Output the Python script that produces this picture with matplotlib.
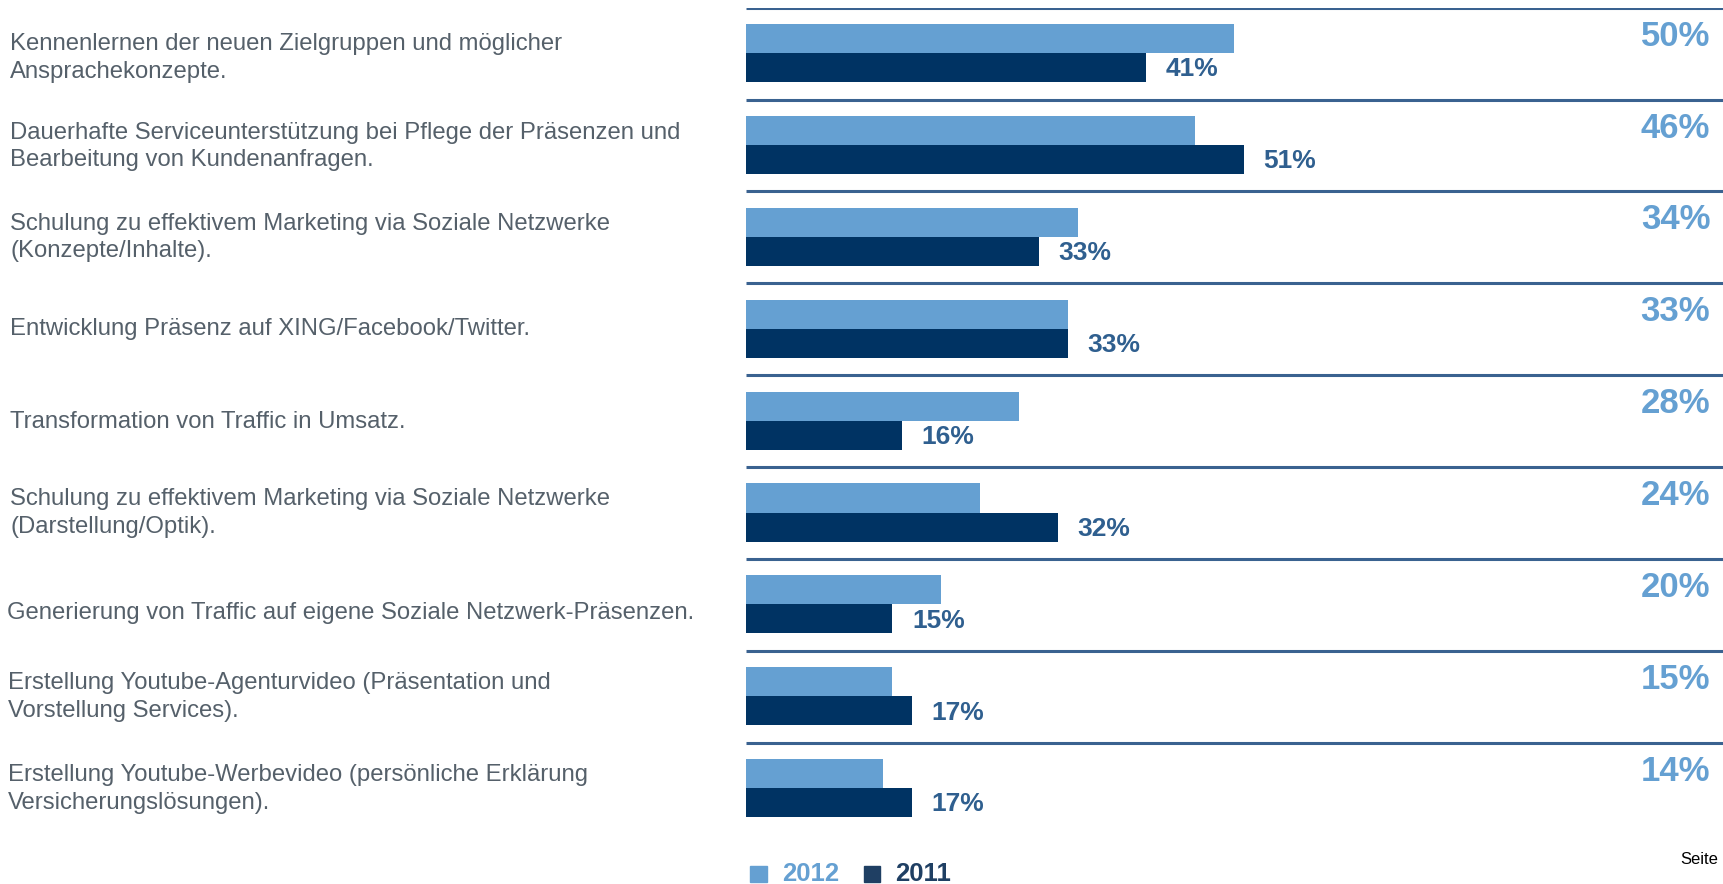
import matplotlib.pyplot as plt
from matplotlib.patches import Rectangle
from matplotlib.transforms import blended_transform_factory

categories = [
    "Kennenlernen der neuen Zielgruppen und möglicher\nAnsprachekonzepte.",
    "Dauerhafte Serviceunterstützung bei Pflege der Präsenzen und\nBearbeitung von Kundenanfragen.",
    "Schulung zu effektivem Marketing via Soziale Netzwerke\n(Konzepte/Inhalte).",
    "Entwicklung Präsenz auf XING/Facebook/Twitter.",
    "Transformation von Traffic in Umsatz.",
    "Schulung zu effektivem Marketing via Soziale Netzwerke\n(Darstellung/Optik).",
    "Generierung von Traffic auf eigene Soziale Netzwerk-Präsenzen.",
    "Erstellung Youtube-Agenturvideo (Präsentation und\nVorstellung Services).",
    "Erstellung Youtube-Werbevideo (persönliche Erklärung\nVersicherungslösungen).",
]
values_2012 = [50, 46, 34, 33, 28, 24, 20, 15, 14]
values_2011 = [41, 51, 30, 33, 16, 32, 15, 17, 17]
labels_2012 = ["50%", "46%", "34%", "33%", "28%", "24%", "20%", "15%", "14%"]
labels_2011 = ["41%", "51%", "33%", "33%", "16%", "32%", "15%", "17%", "17%"]

LIGHT = "#65a0d2"
DARK = "#003363"
LINE = "#3a6290"
DARK_TXT = "#2f5f8f"
GREY = "#55606a"

W, H = 1723, 884
plt.rcParams["font.family"] = ["Liberation Sans", "DejaVu Sans"]

fig = plt.figure(figsize=(W / 100, H / 100), dpi=100)
ax = fig.add_axes([746 / W, 1 - 834.8 / H, 977 / W, 827.1 / H])
xmax = 977 / 9.76
ax.set_xlim(0, xmax)
ax.set_ylim(len(categories), 0)
ax.axis("off")

rows = list(range(len(categories)))
bh = 0.316
ax.barh([r + 0.335 for r in rows], values_2012, height=bh, color=LIGHT)
ax.barh([r + 0.651 for r in rows], values_2011, height=bh, color=DARK)
ax.hlines(rows, 0, xmax, color=LINE, lw=2.2)

# small per-row nudges of the left labels (layout only)
label_dy = [0.05, 0.01, 0, 0, 0.01, 0, 0.09, 0, 0]
label_dx = [0, 0, 0, 0, 0, 0, -3, -2, -2]

trans = blended_transform_factory(fig.transFigure, ax.transData)
for r in rows:
    ax.text(98.8, r + 0.31, labels_2012[r], ha="right", va="center",
            fontsize=25, fontweight="bold", color=LIGHT)
    ax.text(values_2011[r] + 2.0, r + 0.67, labels_2011[r], ha="left",
            va="center", fontsize=19, fontweight="bold", color=DARK_TXT)
    ax.text((10 + label_dx[r]) / W, r + 0.5 + label_dy[r], categories[r],
            transform=trans, ha="left", va="center", fontsize=17.2,
            color=GREY, linespacing=1.33)

# legend
fig.add_artist(Rectangle((750 / W, 1 - 882 / H), 17 / W, 16 / H,
                         transform=fig.transFigure, color=LIGHT))
fig.text(782 / W, 1 - 874 / H, "2012", fontsize=18.5, fontweight="bold",
         color=LIGHT, va="center")
fig.add_artist(Rectangle((864 / W, 1 - 882 / H), 16 / W, 16 / H,
                         transform=fig.transFigure, color="#1f3f63"))
fig.text(895 / W, 1 - 874 / H, "2011", fontsize=18.5, fontweight="bold",
         color="#1f3f63", va="center")

fig.text(1680 / W, 1 - 859 / H, "Seite", fontsize=12, color="black",
         va="center")

fig.savefig("out.png", dpi=100)
